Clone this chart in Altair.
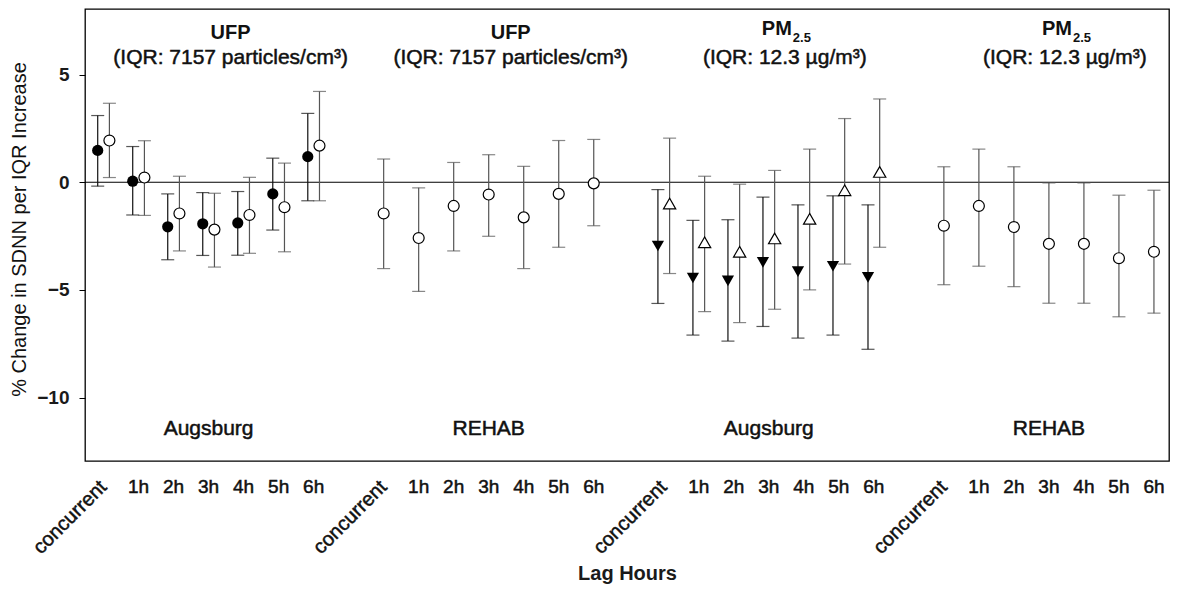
import altair as alt
import pandas as pd

# ---------------- data ----------------
lags = ["concurrent", "1h", "2h", "3h", "4h", "5h", "6h"]

group_names = ["Augsburg", "REHAB", "Augsburg", "REHAB"]
pollutants = ["UFP", "UFP", "PM", "PM"]
pollutant_subs = ["", "", "2.5", "2.5"]
iqr_texts = [
    "(IQR: 7157 particles/cm³)",
    "(IQR: 7157 particles/cm³)",
    "(IQR: 12.3 µg/m³)",
    "(IQR: 12.3 µg/m³)",
]

# UFP, Augsburg - filled circles
ufp_aug_a_est = [1.48, 0.05, -2.07, -1.93, -1.89, -0.54, 1.19]
ufp_aug_a_lo = [-0.18, -1.52, -3.60, -3.40, -3.39, -2.22, -0.86]
ufp_aug_a_hi = [3.10, 1.66, -0.54, -0.48, -0.43, 1.12, 3.20]
# UFP, Augsburg - open circles
ufp_aug_b_est = [1.94, 0.22, -1.45, -2.20, -1.52, -1.16, 1.70]
ufp_aug_b_lo = [0.22, -1.54, -3.19, -3.94, -3.30, -3.23, -0.86]
ufp_aug_b_hi = [3.67, 1.93, 0.28, -0.51, 0.23, 0.89, 4.22]
# UFP, REHAB - open circles
ufp_reh_est = [-1.45, -2.59, -1.10, -0.57, -1.63, -0.54, -0.05]
ufp_reh_lo = [-4.01, -5.07, -3.19, -2.51, -4.01, -3.02, -2.02]
ufp_reh_hi = [1.08, -0.26, 0.92, 1.28, 0.74, 1.94, 1.99]
# PM2.5, Augsburg - filled down triangles
pm_aug_a_est = [-2.96, -4.45, -4.58, -3.72, -4.15, -3.90, -4.42]
pm_aug_a_lo = [-5.63, -7.10, -7.38, -6.70, -7.24, -7.10, -7.76]
pm_aug_a_hi = [-0.34, -1.77, -1.74, -0.69, -1.05, -0.63, -1.05]
# PM2.5, Augsburg - open up triangles
pm_aug_b_est = [-0.99, -2.79, -3.23, -2.61, -1.70, -0.37, 0.48]
pm_aug_b_lo = [-4.24, -6.01, -6.52, -5.90, -5.00, -3.80, -3.02]
pm_aug_b_hi = [2.05, 0.28, -0.09, 0.55, 1.54, 2.96, 3.87]
# PM2.5, REHAB - open circles
pm_reh_est = [-2.02, -1.10, -2.08, -2.86, -2.86, -3.53, -3.23]
pm_reh_lo = [-4.76, -3.90, -4.85, -5.62, -5.62, -6.25, -6.08]
pm_reh_hi = [0.72, 1.54, 0.72, -0.03, -0.03, -0.60, -0.37]

y_ticks = [5, 0, -5, -10]
zero_line = [0]

# ---------------- layout constants ----------------
FONT = "Liberation Sans"
W, H = 1084, 452
SLOT = 8          # 7 lags + 1 empty slot per group
DODGE = 0.167     # half distance between paired estimates

series_defs = [
    (0, "circle", True, ufp_aug_a_est, ufp_aug_a_lo, ufp_aug_a_hi, -DODGE),
    (0, "circle", False, ufp_aug_b_est, ufp_aug_b_lo, ufp_aug_b_hi, DODGE),
    (1, "circle", False, ufp_reh_est, ufp_reh_lo, ufp_reh_hi, 0.0),
    (2, "triangle-down", True, pm_aug_a_est, pm_aug_a_lo, pm_aug_a_hi, -DODGE),
    (2, "triangle-up", False, pm_aug_b_est, pm_aug_b_lo, pm_aug_b_hi, DODGE),
    (3, "circle", False, pm_reh_est, pm_reh_lo, pm_reh_hi, 0.0),
]

rows = []
for g, shape, filled, est, lo, hi, off in series_defs:
    for k in range(len(lags)):
        rows.append(dict(pos=g * SLOT + k + off, est=est[k], lo=lo[k], hi=hi[k],
                         shape=shape, filled=filled))
df = pd.DataFrame(rows)

tick_rows = []
for g in range(4):
    for k, lab in enumerate(lags):
        tick_rows.append(dict(pos=g * SLOT + k, label=lab))
ticks_df = pd.DataFrame(tick_rows)

head_df = pd.DataFrame(dict(
    pos=[g * SLOT + 3 for g in range(4)],
    group=group_names, pol=pollutants, sub=pollutant_subs, iqr=iqr_texts,
))

xscale = alt.Scale(domain=[-0.53, 30.43], nice=False, zero=False)
yscale = alt.Scale(domain=[-12.95, 8.05], nice=False, zero=False)

xaxis = alt.Axis(title="Lag Hours", labels=False, ticks=False, domain=False, grid=False,
                 titleFont=FONT, titleFontSize=20, titleFontWeight="bold",
                 titleColor="#1a1a1a", titleBaseline="alphabetic", titleY=118)
X = alt.X("pos:Q", scale=xscale, axis=xaxis)

yaxis = alt.Axis(values=y_ticks, title="% Change in SDNN per IQR Increase",
                 tickSize=6, tickColor="black", labelPadding=10, labelFont=FONT,
                 labelFontSize=19, labelFontWeight="bold", labelColor="#1a1a1a",
                 domain=False, grid=False,
                 titleFont=FONT, titleFontSize=20, titleFontWeight="normal",
                 titleColor="#111111", titleX=-66, titleY=H / 2 - 6,
                 titleBaseline="middle", titleAlign="center")

base = alt.Chart(df)
line_color = alt.condition("datum.filled", alt.value("#111111"), alt.value("#555555"))

whiskers = base.mark_rule(strokeWidth=1.2).encode(
    x=X, y=alt.Y("lo:Q", scale=yscale, axis=yaxis), y2="hi:Q", color=line_color)
caps_lo = base.mark_tick(orient="horizontal", size=13, thickness=1.2).encode(
    x=X, y=alt.Y("lo:Q", scale=yscale, axis=yaxis), color=line_color)
caps_hi = base.mark_tick(orient="horizontal", size=13, thickness=1.2).encode(
    x=X, y=alt.Y("hi:Q", scale=yscale, axis=yaxis), color=line_color)

zero = alt.Chart(pd.DataFrame({"est": zero_line})).mark_rule(
    color="black", strokeWidth=1.2).encode(y=alt.Y("est:Q", scale=yscale, axis=yaxis))

Yest = alt.Y("est:Q", scale=yscale, axis=yaxis)
filled_circles = base.transform_filter("datum.shape == 'circle' && datum.filled").mark_point(
    shape="circle", filled=True, color="black", size=125, opacity=1).encode(x=X, y=Yest)
open_circles = base.transform_filter("datum.shape == 'circle' && !datum.filled").mark_point(
    shape="circle", filled=True, fill="white", stroke="black", strokeWidth=1.2,
    size=120, opacity=1).encode(x=X, y=Yest)
down_tri = base.transform_filter("datum.shape == 'triangle-down'").mark_point(
    shape="triangle-down", filled=True, color="black", size=150, opacity=1).encode(x=X, y=Yest)
up_tri = base.transform_filter("datum.shape == 'triangle-up'").mark_point(
    shape="triangle-up", filled=True, fill="white", stroke="black", strokeWidth=1.2,
    size=150, opacity=1).encode(x=X, y=Yest)

# regular face with a hairline outline -> medium-weight look of the original
TXT = dict(font=FONT, fontWeight="normal", color="#111111", stroke="#111111", strokeWidth=0.5)
BOLD = dict(font=FONT, fontWeight="bold", color="#111111")

tick_base = alt.Chart(ticks_df)
hour_labels = tick_base.transform_filter("datum.label != 'concurrent'").mark_text(
    fontSize=19, align="center", baseline="alphabetic", **TXT).encode(
    x=X, y=alt.value(H + 32), text="label:N")
conc_labels = tick_base.transform_filter("datum.label == 'concurrent'").mark_text(
    fontSize=20, align="right", baseline="middle", angle=315, **TXT).encode(
    x=X, y=alt.value(H + 23), text="label:N")

hb = alt.Chart(head_df)
ufp_head = hb.transform_filter("datum.pol == 'UFP'").mark_text(
    fontSize=20, align="center", baseline="alphabetic", dx=22, **BOLD).encode(
    x=X, y=alt.value(30), text="pol:N")
ufp_iqr = hb.transform_filter("datum.pol == 'UFP'").mark_text(
    fontSize=21, align="center", baseline="alphabetic", dx=22, **TXT).encode(
    x=X, y=alt.value(55), text="iqr:N")
pm_head = hb.transform_filter("datum.pol == 'PM'").mark_text(
    fontSize=20, align="right", baseline="alphabetic", dx=23, **BOLD).encode(
    x=X, y=alt.value(26), text="pol:N")
pm_sub = hb.transform_filter("datum.pol == 'PM'").mark_text(
    fontSize=13, align="left", baseline="alphabetic", dx=24, **BOLD).encode(
    x=X, y=alt.value(33), text="sub:N")
pm_iqr = hb.transform_filter("datum.pol == 'PM'").mark_text(
    fontSize=21, align="center", baseline="alphabetic", dx=16, **TXT).encode(
    x=X, y=alt.value(55), text="iqr:N")
group_text = hb.mark_text(
    fontSize=21, align="center", baseline="alphabetic", **TXT).encode(
    x=X, y=alt.value(426), text="group:N")

chart = alt.layer(
    zero, whiskers, caps_lo, caps_hi,
    filled_circles, open_circles, down_tri, up_tri,
    hour_labels, conc_labels,
    ufp_head, ufp_iqr, pm_head, pm_sub, pm_iqr, group_text,
).properties(
    width=W, height=H,
    autosize=alt.AutoSizeParams(type="none"),
    padding={"left": 77, "top": 1, "right": 1, "bottom": 124},
).configure_view(stroke="black", strokeWidth=1.3)

chart.save("out.html", embed_options={"renderer": "svg", "actions": False})
